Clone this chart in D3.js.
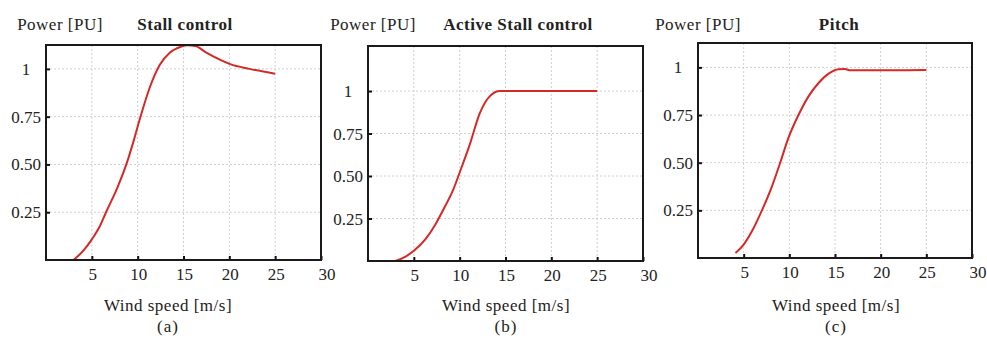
<!DOCTYPE html>
<html>
<head>
<meta charset="utf-8">
<script src="https://cdn.jsdelivr.net/npm/d3@7"></script>
<style>
  body { margin: 0; background: #fff; }
  svg { display: block; }
  text { font-family: "Liberation Serif", "Times New Roman", serif; fill: #222; }
  .grid line { stroke: #cfcfcf; stroke-dasharray: 2,2; }
</style>
</head>
<body>
<div id="graph"></div>
<script>
const w = 987;
const h = 338;

// wind speed [m/s] and power [PU]
const stallWind = [3, 4.1, 5, 5.8, 6.55, 7.8, 8.9, 9.6, 10.25, 11.3, 12.4, 13.5, 14.3, 15.4, 16.3, 17.4, 18.9, 20.1, 22.2, 25];
const stallPower = [0, 0.05, 0.108, 0.17, 0.25, 0.38, 0.52, 0.63, 0.74, 0.9, 1.02, 1.085, 1.108, 1.124, 1.12, 1.088, 1.05, 1.025, 1.0, 0.975];

const activeWind = [3, 4.1, 5, 6.3, 7.3, 8.2, 9.3, 10.2, 11.1, 12.2, 13.3, 14.4, 20, 25];
const activePower = [0, 0.026, 0.06, 0.13, 0.21, 0.3, 0.42, 0.55, 0.685, 0.87, 0.97, 1.0, 1.0, 1.0];

const pitchWind = [4.1, 5, 5.9, 7.0, 8.1, 9.0, 9.9, 11.0, 12.1, 13.2, 14.3, 15.4, 16.1, 16.7, 21.7, 25];
const pitchPower = [0.026, 0.07, 0.14, 0.25, 0.376, 0.5, 0.63, 0.75, 0.848, 0.918, 0.967, 0.99, 0.991, 0.985, 0.985, 0.986];

const titles = ["Stall control", "Active Stall control", "Pitch"];
const captions = ["(a)", "(b)", "(c)"];
const xTicks = [5, 10, 15, 20, 25, 30];
const yTicks = [0.25, 0.5, 0.75, 1];
const yTickLabels = ["0.25", "0.50", "0.75", "1"];

// layout of each panel
const panels = [
  { left: 46, right: 321, top: 45, bottom: 260, yMax: 1.125, powerX: 60, titleX: 185, windX: 168, wind: stallWind, power: stallPower },
  { left: 368, right: 643, top: 46, bottom: 261, yMax: 1.265, powerX: 373, titleX: 518, windX: 506, wind: activeWind, power: activePower },
  { left: 698, right: 972, top: 43, bottom: 258, yMax: 1.128, powerX: 698, titleX: 839, windX: 836, wind: pitchWind, power: pitchPower }
];

var svg = d3.select("#graph").
append("svg").
attr("width", w).
attr("height", h);

panels.forEach(function (p, i) {
  const xScale = d3.scaleLinear().
  domain([0, 30]).
  range([p.left, p.right]);

  const yScale = d3.scaleLinear().
  domain([0, p.yMax]).
  range([p.bottom, p.top]);

  var g = svg.append("g");

  // grid
  var grid = g.append("g").attr("class", "grid");
  grid.selectAll(".gx").
  data(xTicks.slice(0, -1)).
  enter().
  append("line").
  attr("x1", d => xScale(d)).
  attr("x2", d => xScale(d)).
  attr("y1", p.top).
  attr("y2", p.bottom);

  grid.selectAll(".gy").
  data(yTicks).
  enter().
  append("line").
  attr("x1", p.left).
  attr("x2", p.right).
  attr("y1", d => yScale(d)).
  attr("y2", d => yScale(d));

  // axes with inward ticks
  const xAxis = d3.axisTop(xScale).tickValues(xTicks).tickSize(4).tickFormat("");
  const yAxis = d3.axisRight(yScale).tickValues(yTicks).tickSize(4).tickFormat("");

  g.append("g").
  attr("transform", "translate(0," + p.bottom + ")").
  call(xAxis).
  call(a => a.select(".domain").remove()).
  selectAll("line").attr("stroke", "#111").attr("stroke-width", 2);

  g.append("g").
  attr("transform", "translate(" + p.left + ",0)").
  call(yAxis).
  call(a => a.select(".domain").remove()).
  selectAll("line").attr("stroke", "#111").attr("stroke-width", 2);

  // tick labels
  g.selectAll(".xl").
  data(xTicks).
  enter().
  append("text").
  attr("x", d => xScale(d) + (d === 30 ? 6 : 1)).
  attr("y", p.bottom + 20).
  attr("text-anchor", "middle").
  style("font-size", "17px").
  text(d => d);

  g.selectAll(".yl").
  data(yTicks).
  enter().
  append("text").
  attr("x", p.left - 20).
  attr("y", d => yScale(d) + 6).
  attr("text-anchor", "middle").
  style("font-size", "17px").
  text((d, k) => yTickLabels[k]);

  // curve
  const line = d3.line().
  x(d => xScale(d[0])).
  y(d => yScale(d[1])).
  curve(d3.curveMonotoneX);

  g.append("path").
  datum(p.wind.map((v, k) => [v, p.power[k]])).
  attr("d", line).
  attr("fill", "none").
  attr("stroke", "#d42a26").
  attr("stroke-width", 2);

  // frame
  g.append("rect").
  attr("x", p.left).
  attr("y", p.top).
  attr("width", p.right - p.left).
  attr("height", p.bottom - p.top).
  attr("fill", "none").
  attr("stroke", "#1a1a1a").
  attr("stroke-width", 2);

  // texts
  g.append("text").
  attr("x", p.powerX).
  attr("y", 30).
  attr("text-anchor", "middle").
  style("font-size", "17px").
  style("letter-spacing", "0.5px").
  text("Power [PU]");

  g.append("text").
  attr("x", p.titleX).
  attr("y", 30).
  attr("text-anchor", "middle").
  style("font-size", "17px").
  style("font-weight", "bold").
  style("letter-spacing", "0.5px").
  text(titles[i]);

  g.append("text").
  attr("x", p.windX).
  attr("y", 311).
  attr("text-anchor", "middle").
  style("font-size", "17px").
  style("letter-spacing", "0.5px").
  text("Wind speed [m/s]");

  g.append("text").
  attr("x", p.windX).
  attr("y", 332).
  attr("text-anchor", "middle").
  style("font-size", "17px").
  style("letter-spacing", "1px").
  text(captions[i]);
});
</script>
</body>
</html>
